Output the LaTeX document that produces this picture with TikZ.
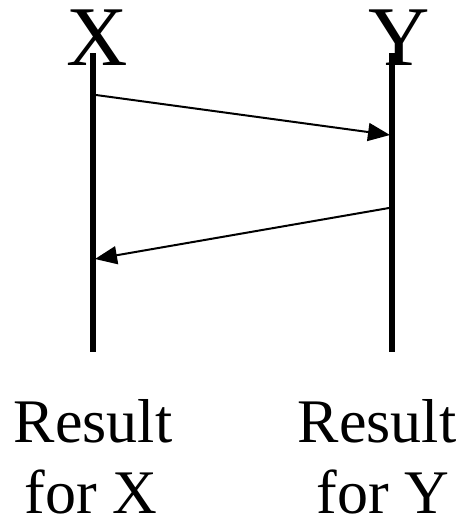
\documentclass[tikz,border=0pt]{standalone}
\usepackage{fontspec}
\setmainfont{Liberation Serif}
\usetikzlibrary{arrows.meta}
\begin{document}
\begin{tikzpicture}[x=1pt,y=-1pt,
  head/.style={font=\fontsize{85}{90}\selectfont, inner sep=0pt, anchor=base},
  res/.style={font=\fontsize{62}{71}\selectfont, inner sep=0pt, anchor=base},
  life/.style={line width=6pt},
  msg/.style={line width=2pt, -{Triangle[length=22pt,width=18pt]}}]
\useasboundingbox (0,0) rectangle (465,522);
\node[head] (X) at (97,65) {X};
\node[head] (Y) at (399,65) {Y};
\coordinate (xtop) at (93,53);
\coordinate (xbot) at (93,352);
\coordinate (ytop) at (392,53);
\coordinate (ybot) at (392,352);
\draw[life] (xtop) -- (xbot);
\draw[life] (ytop) -- (ybot);
\coordinate (m1s) at (96,95);
\coordinate (m1e) at (390,135);
\coordinate (m2s) at (389,208);
\coordinate (m2e) at (95,259);
\draw[msg] (m1s) -- (m1e);
\draw[msg] (m2s) -- (m2e);
\node[res] (rx1) at (93,442) {Result};
\node[res] (rx2) at (91,513) {for X};
\node[res] (ry1) at (377,442) {Result};
\node[res] (ry2) at (383,513) {for Y};
\end{tikzpicture}
\end{document}
